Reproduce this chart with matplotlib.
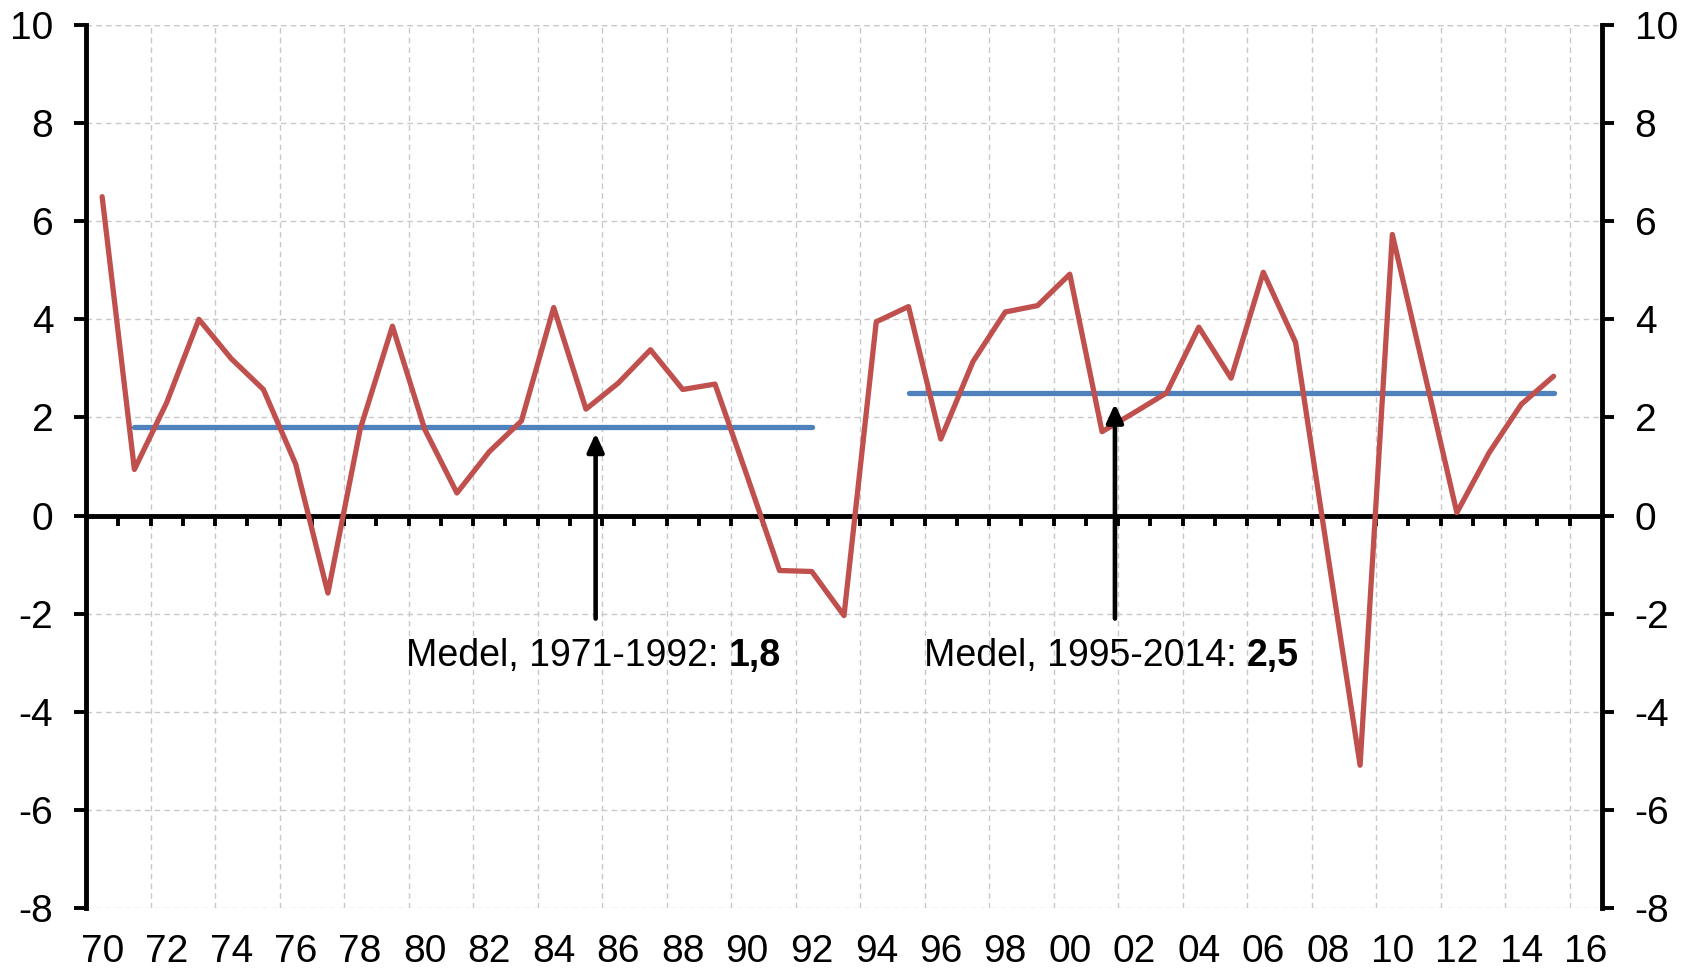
import matplotlib
matplotlib.use("Agg")
import matplotlib.pyplot as plt
from matplotlib.ticker import FixedLocator

plt.rcParams['font.family'] = ['Liberation Sans', 'DejaVu Sans']
plt.rcParams['axes.unicode_minus'] = False

# ---- data ----
years = list(range(1970, 2016))
growth = [6.5, 0.94, 2.3, 4.0, 3.2, 2.57, 1.05, -1.58, 1.76, 3.86,
          1.76, 0.46, 1.3, 1.93, 4.24, 2.17, 2.7, 3.38, 2.57, 2.68,
          0.8, -1.12, -1.14, -2.04, 3.95, 4.26, 1.56, 3.14, 4.15, 4.28,
          4.92, 1.71, 2.1, 2.5, 3.84, 2.8, 4.96, 3.53, -0.8, -5.09,
          5.73, 2.9, 0.06, 1.28, 2.27, 2.84]

mean_starts = [1971, 1995]
mean_ends = [1992, 2015]
mean_values = [1.8, 2.5]
mean_texts = ["Medel, 1971-1992: ", "Medel, 1995-2014: "]
mean_bold = ["1,8", "2,5"]
arrow_x = [1985.3, 2001.4]
arrow_tip = [1.68, 2.28]
arrow_base = -2.1
text_x = [1979.42, 1995.48]
text_y = -3.06

y_ticks = list(range(-8, 11, 2))
x_label_years = list(range(1970, 2017, 2))
x_labels = [f"{y % 100:02d}" for y in x_label_years]

red = "#C0504D"
blue = "#4F81BD"
grid_c = "#C8C8C8"

fig = plt.figure(figsize=(16.86, 9.69), dpi=100)
ax = fig.add_axes([86/1686, 1-908/969, (1602-86)/1686, (908-25)/969])

ax.set_xlim(1969.5, 2016.5)
ax.set_ylim(-8, 10)

# series
ax.plot(years, growth, color=red, lw=3.8, solid_joinstyle='round',
        solid_capstyle='round', zorder=5)
for s, e, v in zip(mean_starts, mean_ends, mean_values):
    ax.plot([s, e], [v, v], color=blue, lw=3.8, solid_capstyle='round', zorder=4)

# arrows and texts
for x, tip, t, b, tx in zip(arrow_x, arrow_tip, mean_texts, mean_bold, text_x):
    ax.annotate("", xy=(x, tip), xytext=(x, arrow_base),
                arrowprops=dict(arrowstyle='-|>,head_length=1.1,head_width=0.5',
                                lw=3.3, color='black', mutation_scale=10,
                                shrinkA=0, shrinkB=0), zorder=6)
    t1 = ax.text(tx, text_y, t, fontsize=27, ha='left', va='baseline', zorder=6)
    ax.annotate(b, xy=(1, 0), xycoords=t1, fontsize=27, fontweight='bold',
                ha='left', va='bottom', zorder=6)

# spines
ax.spines['top'].set_visible(False)
ax.spines['bottom'].set_position(('data', 0))
for side in ['left', 'right', 'bottom']:
    ax.spines[side].set_linewidth(3.5)
    ax.spines[side].set_color('black')

# y axis: both sides
ax.set_yticks(y_ticks)
ax.yaxis.set_ticks_position('both')
ax.tick_params(axis='y', which='major', direction='out', length=8.5, width=2.8,
               labelsize=28, pad=15, left=True, right=True,
               labelleft=True, labelright=True)

# x axis: ticks on zero line at every year boundary, no labels
ax.xaxis.set_major_locator(FixedLocator([y + 0.5 for y in range(1971, 2016, 2)]))
ax.xaxis.set_minor_locator(FixedLocator([y + 0.5 for y in range(1970, 2016, 2)]))
ax.tick_params(axis='x', which='both', direction='out', length=7, width=2.8,
               labelbottom=False, top=False)

# grid
ax.grid(True, axis='both', which='major', color=grid_c, linestyle=(0, (4, 3)),
        linewidth=1.0, zorder=0)
ax.set_axisbelow(True)
ax.axhline(10, color=grid_c, linestyle=(0, (4, 3)), linewidth=1.0, zorder=0)

# secondary x axis for labels
sec = ax.secondary_xaxis(0)
sec.set_xticks(x_label_years)
sec.set_xticklabels(x_labels)
sec.spines['bottom'].set_visible(False)
sec.tick_params(axis='x', length=0, labelsize=28, pad=19)

fig.savefig("out.png", dpi=100)
